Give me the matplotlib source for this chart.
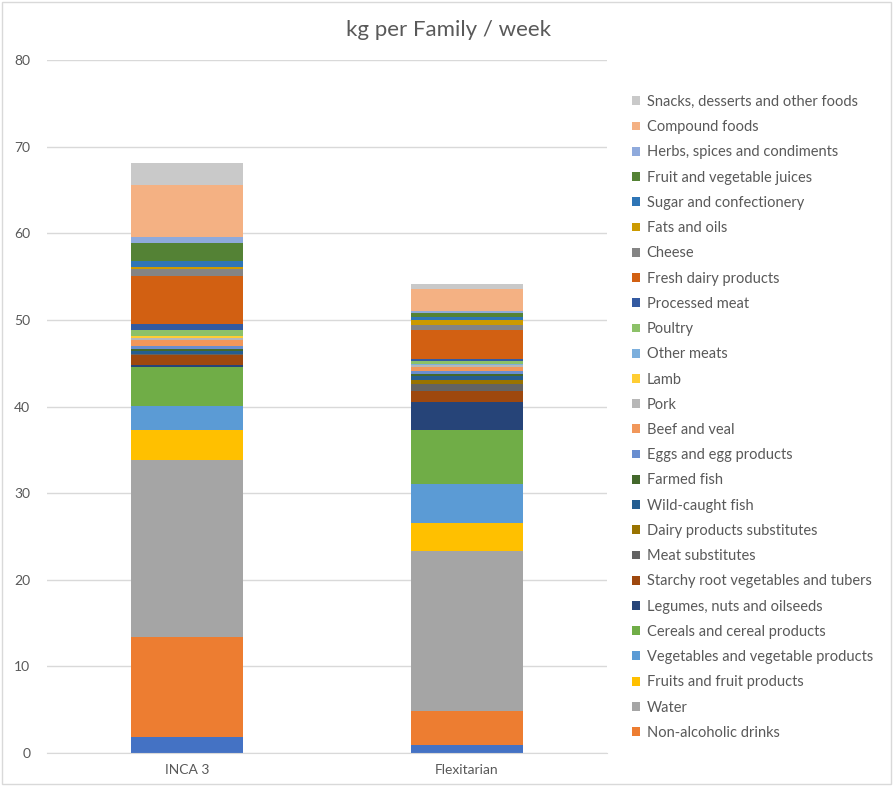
import matplotlib
matplotlib.use("Agg")
import matplotlib.pyplot as plt
from matplotlib.patches import Rectangle, Patch
import numpy as np

plt.rcParams['font.family'] = ['Lato', 'DejaVu Sans']

diets = ["INCA 3", "Flexitarian"]

# Food groups, bottom of the stack first
groups = [
    "Alcoholic drinks",
    "Non-alcoholic drinks",
    "Water",
    "Fruits and fruit products",
    "Vegetables and vegetable products",
    "Cereals and cereal products",
    "Legumes, nuts and oilseeds",
    "Starchy root vegetables and tubers",
    "Meat substitutes",
    "Dairy products substitutes",
    "Wild-caught fish",
    "Farmed fish",
    "Eggs and egg products",
    "Beef and veal",
    "Pork",
    "Lamb",
    "Other meats",
    "Poultry",
    "Processed meat",
    "Fresh dairy products",
    "Cheese",
    "Fats and oils",
    "Sugar and confectionery",
    "Fruit and vegetable juices",
    "Herbs, spices and condiments",
    "Compound foods",
    "Snacks, desserts and other foods",
]

# kg per family per week, same order as groups
inca3 = [1.85, 11.55, 20.4, 3.46, 2.77, 4.54, 0.23, 1.12, 0.10, 0.05,
         0.35, 0.20, 0.38, 0.69, 0.20, 0.20, 0.05, 0.65, 0.69, 5.58,
         0.77, 0.27, 0.65, 2.15, 0.69, 5.93, 2.62]
flexitarian = [0.92, 3.93, 18.44, 3.23, 4.54, 6.20, 3.23, 1.31, 0.85, 0.46,
               0.38, 0.23, 0.35, 0.50, 0.19, 0.05, 0.05, 0.38, 0.27, 3.30,
               0.58, 0.58, 0.35, 0.42, 0.23, 2.54, 0.58]

colors = [
    "#4472C4", "#ED7D31", "#A5A5A5", "#FFC000", "#5B9BD5", "#70AD47",
    "#264478", "#9E480E", "#636363", "#997300", "#255E91", "#43682B",
    "#698ED0", "#F1975A", "#B7B7B7", "#FFCD33", "#7CAFDD", "#8CC168",
    "#335AA1", "#D26012", "#848484", "#CC9A00", "#2E75B6", "#548235",
    "#8FAADC", "#F4B183", "#C9C9C9",
]

W, H = 893, 787
fig = plt.figure(figsize=(W / 100, H / 100), dpi=100)

# chart frame
fig.add_artist(Rectangle((1.5 / W, 3 / H), (W - 4) / W, (H - 5) / H,
                         transform=fig.transFigure, fill=False,
                         edgecolor="#D9D9D9", linewidth=1.0))

ax = fig.add_axes([47 / W, 34 / H, 560 / W, 693 / H])

vals = np.array([inca3, flexitarian])
x = np.arange(len(diets))
bottom = np.zeros(len(diets))
for i, name in enumerate(groups):
    ax.bar(x, vals[:, i], width=0.4, bottom=bottom, color=colors[i],
           label=name, linewidth=0)
    bottom += vals[:, i]

ax.set_xlim(-0.5, 1.5)
ax.set_ylim(0, 80)
ax.set_yticks(np.arange(0, 81, 10))
ax.set_xticks(x)
ax.set_xticklabels(diets)
ax.yaxis.grid(True, color="#D9D9D9", linewidth=1.0)
ax.set_axisbelow(True)
for side in ["top", "right", "left"]:
    ax.spines[side].set_visible(False)
ax.spines["bottom"].set_color("#D9D9D9")
ax.tick_params(axis="both", length=0, labelsize=10, colors="#595959")
ax.tick_params(axis="y", pad=12)
ax.tick_params(axis="x", pad=8)

fig.text(448 / W, 1 - 30 / H, "kg per Family / week", ha="center", va="center",
         fontsize=16, color="#595959")

# legend: top entry listed first, the bottom drinks band is not listed
handles = [Patch(facecolor=colors[i], edgecolor="none", label=groups[i])
           for i in range(len(groups) - 1, 0, -1)]
fig.legend(handles=handles, loc="upper left",
           bbox_to_anchor=(632 / W, 1 - 95 / H), frameon=False,
           fontsize=10.5, labelcolor="#595959", handlelength=0.55,
           handleheight=0.55, handletextpad=0.45, labelspacing=0.77,
           borderpad=0, borderaxespad=0)

fig.savefig("out.png", dpi=100)
